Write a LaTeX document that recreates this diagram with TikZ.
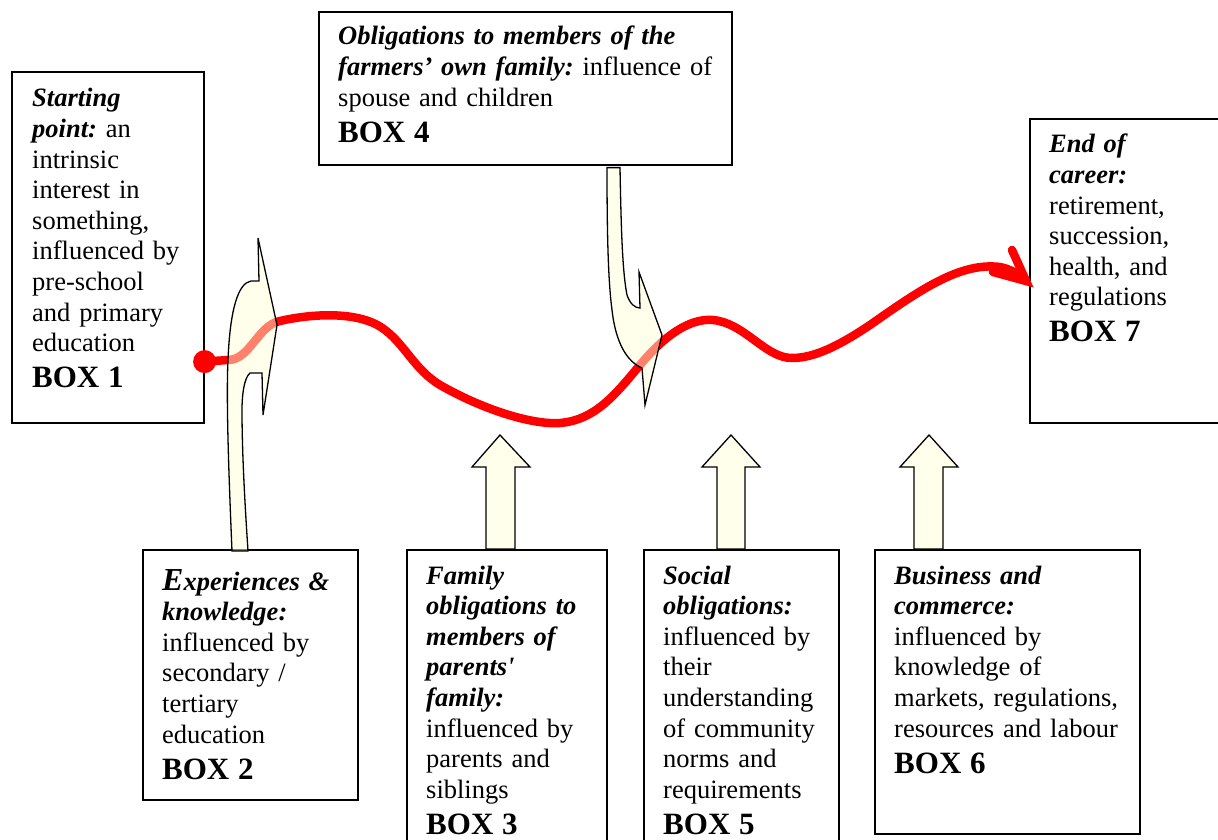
\documentclass[tikz,border=0pt]{standalone}
\usepackage{fontspec}
\newfontfamily\tnr{Liberation Serif}
\usetikzlibrary{calc}

\definecolor{pathred}{RGB}{255,0,0}
\definecolor{arrowfill}{RGB}{255,255,215}

\newcommand\hd[1]{\textbf{\textit{#1}}}
\newcommand\bx[1]{{\bfseries\fontsize{31}{31}\selectfont #1}}

\tikzset{
  box/.style={draw=black, line width=1.6pt, inner sep=0pt, anchor=north west},
  txt/.style={anchor=base west, inner sep=0pt, text width=420pt, align=left,
              font=\tnr\frenchspacing\fontsize{26.5}{30.6}\selectfont},
  lifeline/.style={draw=pathred, line width=8.5pt, line cap=round, line join=round},
  farrow/.style={draw=black, line width=1.3pt, fill=arrowfill, fill opacity=0.5,
                 line join=miter},
}

\begin{document}
\begin{tikzpicture}[x=1pt, y=-1pt]
\useasboundingbox (0,0) rectangle (1218,840);
\clip (0,0) rectangle (1218,840);

% ---- boxes ----
\node[box, minimum width=192pt, minimum height=351pt] (box1) at (11,71) {};
\node[box, minimum width=413pt, minimum height=153pt] (box4) at (318,11) {};
\node[box, minimum width=220pt, minimum height=304pt] (box7) at (1029,118) {};
\node[box, minimum width=215pt, minimum height=250pt] (box2) at (142,549) {};
\node[box, minimum width=200pt, minimum height=320pt] (box3) at (406,549) {};
\node[box, minimum width=195pt, minimum height=320pt] (box5) at (643,549) {};
\node[box, minimum width=265pt, minimum height=284pt] (box6) at (874,549) {};

% ---- box texts ----
\node[txt] (t1) at ($(box1.north west)+(21,36)$) {%
  \hd{Starting}\\
  \hd{point:} an\\
  intrinsic\\
  interest in\\
  something,\\
  influenced by\\
  pre-school\\
  and primary\\
  education\\[5pt]
  \bx{BOX 1}};

\node[txt] (t4) at ($(box4.north west)+(20,34)$) {%
  \hd{Obligations to members of the}\\
  \hd{farmers’ own family:} influence of\\
  spouse and children\\[6pt]
  \bx{BOX 4}};

\node[txt] (t7) at ($(box7.north west)+(20,35)$) {%
  \hd{End of}\\
  \hd{career:}\\
  retirement,\\
  succession,\\
  health, and\\
  regulations\\[5pt]
  \bx{BOX 7}};

\node[txt] (t2) at ($(box2.north west)+(20,41)$) {%
  \textbf{\textit{{\fontsize{32}{30.6}\selectfont E}xperiences \&}}\\
  \hd{knowledge:}\\
  influenced by\\
  secondary /\\
  tertiary\\
  education\\[6pt]
  \bx{BOX 2}};

\node[txt] (t3) at ($(box3.north west)+(20,35)$) {%
  \hd{Family}\\
  \hd{obligations to}\\
  \hd{members of}\\
  \hd{parents'}\\
  \hd{family:}\\
  influenced by\\
  parents and\\
  siblings\\[6pt]
  \bx{BOX 3}};

\node[txt] (t5) at ($(box5.north west)+(20,35)$) {%
  \hd{Social}\\
  \hd{obligations:}\\
  influenced by\\
  their\\
  understanding\\
  of community\\
  norms and\\
  requirements\\[6pt]
  \bx{BOX 5}};

\node[txt] (t6) at ($(box6.north west)+(20,35)$) {%
  \hd{Business and}\\
  \hd{commerce:}\\
  influenced by\\
  knowledge of\\
  markets, regulations,\\
  resources and labour\\[6pt]
  \bx{BOX 6}};

% ---- career path ----
\coordinate (start) at ($(box1.south east)+(0,-62)$);
\coordinate (tip) at ($(box7.north west)+(-3,163)$);
\draw[lifeline] (start) -- (228,360)
  .. controls (250,360) and (258,325) .. (280,321)
  .. controls (310,314) and (360,310) .. (385,330)
  .. controls (405,345) and (415,370) .. (440,385)
  .. controls (480,408) and (530,425) .. (560,423)
  .. controls (595,420) and (615,395) .. (640,365)
  .. controls (665,335) and (690,318) .. (713,320)
  .. controls (745,323) and (765,358) .. (792,358)
  .. controls (815,358) and (840,345) .. (870,325)
  .. controls (920,290) and (960,262) .. (1000,267)
  .. controls (1010,269) and (1019,274) .. (tip);
\draw[lifeline, line join=miter] (1012,250) -- (tip) -- (993,272);
\fill[pathred] (start) circle (11.5);

% ---- influence arrows ----
% bent arrow rising from box 2
\draw[farrow] ($(box2.north west)+(90,2)$)
  .. controls (229,480) and (226,400) .. (228,360)
  .. controls (230,310) and (238,283) .. (251,281)
  -- (259,281) -- (258,238) -- (277,325) -- (263,415) -- (262,373) -- (250,373)
  .. controls (244,378) and (242,395) .. (242,410)
  .. controls (242,460) and (246,520) .. ($(box2.north west)+(106,2)$) -- cycle;

% bent arrow descending from box 4
\draw[farrow] ($(box4.south west)+(289,2)$) -- ($(box4.south west)+(302,2)$)
  .. controls (621,220) and (622,270) .. (627,295)
  .. controls (630,304) and (635,308) .. (640,308)
  -- (639,272) -- (662,335) -- (645,405) -- (642,368)
  .. controls (628,362) and (616,345) .. (612,310)
  .. controls (608,280) and (607,230) .. ($(box4.south west)+(289,2)$) -- cycle;

% straight arrows rising from boxes 3, 5 and 6
\draw[farrow] ($(box3.north west)+(80,0)$) -- (486,467) -- (472,467) -- (500,435)
  -- (530,467) -- (515,467) -- ($(box3.north west)+(109,0)$) -- cycle;
\draw[farrow] ($(box5.north west)+(74,0)$) -- (717,467) -- (702,467) -- (731,435)
  -- (760,467) -- (745,467) -- ($(box5.north west)+(102,0)$) -- cycle;
\draw[farrow] ($(box6.north west)+(40,0)$) -- (914,467) -- (900,467) -- (929,435)
  -- (958,467) -- (943,467) -- ($(box6.north west)+(69,0)$) -- cycle;
\end{tikzpicture}
\end{document}
